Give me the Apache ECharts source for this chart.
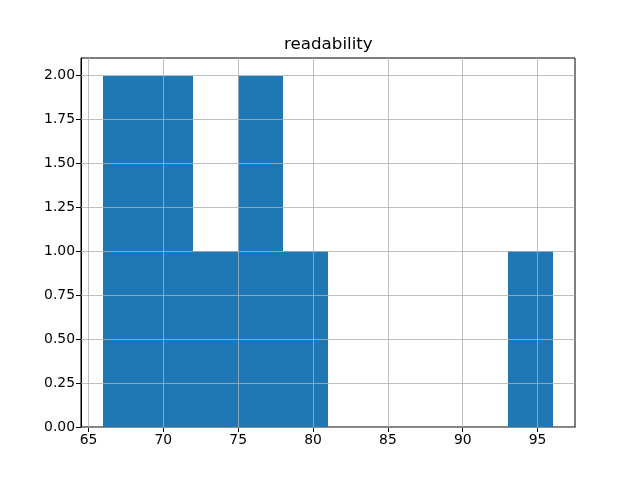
<!DOCTYPE html>
<html>
<head>
<meta charset="utf-8">
<script src="https://cdn.jsdelivr.net/npm/echarts@6/dist/echarts.min.js"></script>
<style>html,body{margin:0;padding:0;background:#fff;}#c{width:640px;height:480px;}</style>
</head>
<body>
<div id="c"></div>
<script>
const binStarts = [66, 69, 72, 75, 78, 81, 84, 87, 90, 93];
const binEnds   = [69, 72, 75, 78, 81, 84, 87, 90, 93, 96];
const counts    = [2, 2, 1, 2, 1, 0, 0, 0, 0, 1];
const xTicks = [65, 70, 75, 80, 85, 90, 95];
const yTicks = [0, 0.25, 0.5, 0.75, 1.0, 1.25, 1.5, 1.75, 2.0];
const titleText = 'readability';

const chart = echarts.init(document.getElementById('c'), null, {renderer: 'canvas'});
const data = binStarts.map((s, i) => [s, binEnds[i], counts[i]]);
const font = 'DejaVu Sans';
const gridMarks = xTicks.map(v => ({xAxis: v})).concat(yTicks.map(v => ({yAxis: v})));

chart.setOption({
  animation: false,
  backgroundColor: '#fff',
  title: {
    text: titleText, left: 279, top: 31,
    textStyle: {fontFamily: font, fontSize: 16.7, fontWeight: 'normal', color: '#000'}
  },
  grid: {left: 81, right: 65, top: 58, bottom: 53, show: true, borderColor: '#000', borderWidth: 1, backgroundColor: 'transparent'},
  xAxis: {
    type: 'value', min: 64.5, max: 97.5,
    axisLine: {show: true, onZero: false, lineStyle: {color: '#000', width: 1}},
    axisTick: {show: true, length: 5, customValues: xTicks, lineStyle: {color: '#000'}},
    axisLabel: {customValues: xTicks, color: '#000', fontFamily: font, fontSize: 13.9, margin: 6},
    splitLine: {show: false}
  },
  yAxis: {
    type: 'value', min: 0, max: 2.1,
    axisLine: {show: true, lineStyle: {color: '#000', width: 1}},
    axisTick: {show: true, length: 5, customValues: yTicks, lineStyle: {color: '#000'}},
    axisLabel: {customValues: yTicks, color: '#000', fontFamily: font, fontSize: 13.9, margin: 6,
      formatter: v => Number(v).toFixed(2)},
    splitLine: {show: false}
  },
  series: [{
    type: 'custom',
    data: data,
    encode: {x: [0, 1], y: 2},
    renderItem: function (params, api) {
      if (api.value(2) <= 0) return null;
      const p0 = api.coord([api.value(0), api.value(2)]);
      const p1 = api.coord([api.value(1), 0]);
      const x0 = Math.round(p0[0]), x1 = Math.round(p1[0]);
      const y0 = Math.round(p0[1]), y1 = Math.round(p1[1]);
      return {
        type: 'rect',
        shape: {x: x0, y: y0, width: x1 - x0, height: y1 - y0},
        style: {fill: '#1f77b4'}
      };
    },
    markLine: {
      silent: true, symbol: 'none', animation: false,
      label: {show: false},
      lineStyle: {color: '#b0b0b0', width: 0.8, type: 'solid'},
      emphasis: {disabled: true},
      data: gridMarks
    },
    z: 2
  }]
});
</script>
</body>
</html>
